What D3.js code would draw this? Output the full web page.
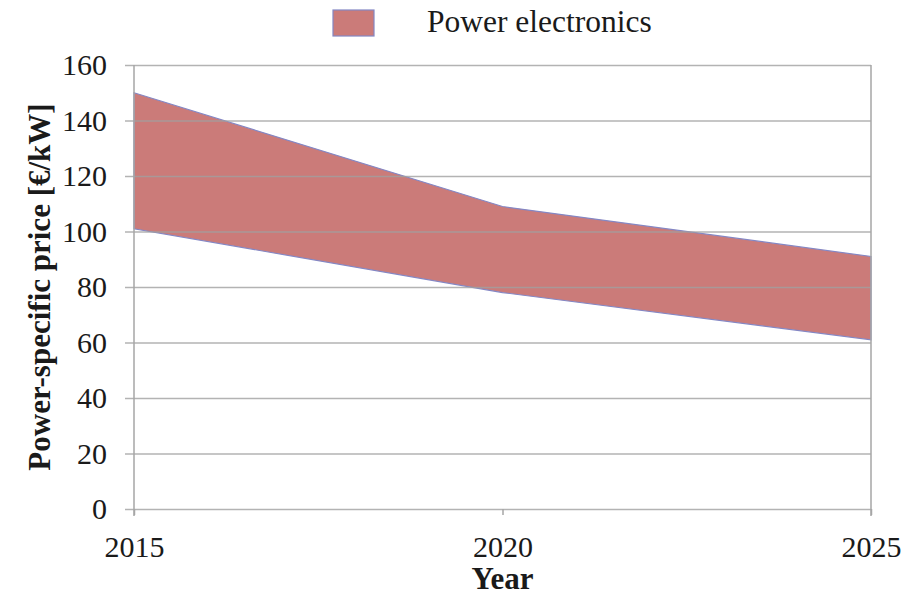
<!DOCTYPE html>
<html><head><meta charset="utf-8">
<script src="https://cdn.jsdelivr.net/npm/d3@7"></script>
<style>body{margin:0;background:#fff}svg{display:block}svg text{font-family:'Liberation Serif','Times New Roman',serif !important}</style>
</head><body>
<script>
const years = [2015, 2020, 2025];
const upper = [150, 109, 91];
const lower = [101, 78, 61];
const yTicks = [0, 20, 40, 60, 80, 100, 120, 140, 160];
const seriesName = "Power electronics";

const W = 908, H = 595;
const m = {left: 134, right: 908 - 871, top: 65, bottom: 595 - 509};
const svg = d3.select("body").append("svg").attr("width", W).attr("height", H);

const x = d3.scaleLinear().domain([2015, 2025]).range([m.left, W - m.right]);
const y = d3.scaleLinear().domain([0, 160]).range([H - m.bottom, m.top]);

const data = years.map((yr, i) => ({yr, lo: lower[i], hi: upper[i]}));

// area
const area = d3.area().x(d => x(d.yr)).y0(d => y(d.lo)).y1(d => y(d.hi));
svg.append("path").datum(data).attr("d", area)
  .attr("fill", "#cb7b79").attr("stroke", "#8487c4").attr("stroke-width", 1.2);

// gridlines (over the area)
const grid = svg.append("g").attr("transform", `translate(${W - m.right},0)`)
  .call(d3.axisLeft(y).tickValues(yTicks).tickSize(W - m.right - m.left + 9).tickFormat(""));
grid.select(".domain").remove();
grid.selectAll("line").attr("stroke", "#a0a0a0").attr("stroke-opacity", 0.8).attr("stroke-width", 1.5);

// left axis
const yAxis = svg.append("g").attr("transform", `translate(${m.left},0)`)
  .call(d3.axisLeft(y).tickValues(yTicks).tickSize(0).tickPadding(27).tickSizeOuter(0));
yAxis.select(".domain").attr("stroke", "#a6a6a6").attr("stroke-width", 1.5)
  .attr("d", `M0,${y(160)}V${y(0) + 7}`);
yAxis.selectAll("text").attr("font-size", 30).attr("fill", "#1a1a1a");

// right border
svg.append("line").attr("x1", x(2025)).attr("x2", x(2025)).attr("y1", y(160)).attr("y2", y(0) + 7)
  .attr("stroke", "#a6a6a6").attr("stroke-width", 1.5);

// bottom axis
const xAxis = svg.append("g").attr("transform", `translate(0,${y(0)})`)
  .call(d3.axisBottom(x).tickValues(years).tickFormat(d3.format("d")).tickSize(6).tickPadding(21).tickSizeOuter(0));
xAxis.select(".domain").remove();
xAxis.selectAll("line").attr("stroke", "#a6a6a6").attr("stroke-width", 1.5);
xAxis.selectAll("text").attr("font-size", 30).attr("fill", "#1a1a1a");

// axis titles
svg.append("text").attr("x", x(2020)).attr("y", 589).attr("text-anchor", "middle")
  .attr("font-size", 31).attr("font-weight", "bold").attr("fill", "#1a1a1a").text("Year");
svg.append("text").attr("transform", `translate(50,${(y(0) + y(160)) / 2}) rotate(-90)`)
  .attr("text-anchor", "middle").attr("font-size", 31).attr("font-weight", "bold").attr("fill", "#1a1a1a")
  .text("Power-specific price [€/kW]");

// legend
const lg = svg.append("g");
lg.append("rect").attr("x", 333).attr("y", 10).attr("width", 41).attr("height", 26)
  .attr("fill", "#cb7b79").attr("stroke", "#8487c4").attr("stroke-width", 1.2);
lg.append("text").attr("x", 427).attr("y", 32).attr("font-size", 31.5).attr("fill", "#1a1a1a").text(seriesName);
</script>
</body></html>
